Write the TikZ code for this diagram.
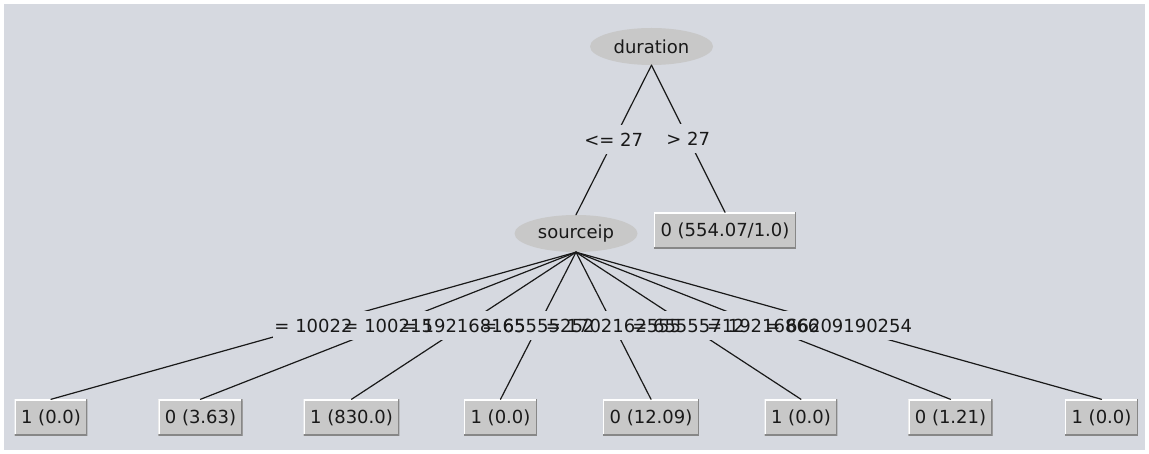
\documentclass[tikz,border=0pt]{standalone}
\usepackage{fontspec}
\setmainfont{DejaVu Sans}
\usetikzlibrary{shapes.geometric}
\definecolor{panelbg}{RGB}{214,217,224}
\definecolor{nodegrey}{RGB}{200,200,200}
\definecolor{rimdark}{RGB}{135,135,135}
\definecolor{inkc}{RGB}{25,25,25}
\begin{document}
\begin{tikzpicture}[x=1pt, y=-1pt, line join=round, line cap=round,
	font=\fontsize{18}{20}\selectfont, text=inkc,
	splitnode/.style={ellipse, fill=nodegrey, minimum width=123pt, minimum height=37pt, inner sep=0pt},
	leafbox/.style={rectangle, fill=nodegrey, minimum height=36pt, inner xsep=6.5pt, inner ysep=0pt,
		path picture={
			\draw[white, line width=2.4pt] (path picture bounding box.south west) |- (path picture bounding box.north east);
			\draw[rimdark, line width=2.4pt] (path picture bounding box.south west) -| (path picture bounding box.north east);}},
	labelbg/.style={rectangle, fill=panelbg, minimum height=29pt, inner xsep=1pt, inner ysep=0pt},
	labeltext/.style={rectangle, inner sep=0pt},
	branch/.style={draw=inkc, line width=1.2pt}]
	% panel
	\useasboundingbox (0,0) rectangle (1149,454);
	\fill[white] (0,0) rectangle (1149,454);
	\fill[panelbg] (4,4) rectangle (1145,450);
	% split nodes and leaves
	\node[splitnode] (duration) at (651.5,46.5) {duration};
	\node[splitnode] (sourceip) at (576,233.5) {sourceip};
	\node[leafbox] (bigleaf) at (725,230.5) {0 (554.07/1.0)};
	\foreach \cx/\txt [count=\i] in {51/1 (0.0), 200.5/0 (3.63), 351.5/1 (830.0), 500.5/1 (0.0),
		651/0 (12.09), 801/1 (0.0), 950.5/0 (1.21), 1101.5/1 (0.0)}
		\node[leafbox] (leaf\i) at (\cx,417.5) {\txt};
	% branches
	\draw[branch] (duration.south) -- (sourceip.north);
	\draw[branch] (duration.south) -- (bigleaf.north);
	\foreach \i in {1,...,8}
		\draw[branch] (sourceip.south) -- (leaf\i.north);
	% branch labels
	\path (duration.south) -- (sourceip.north) node[midway, labelbg] (lowdur) {<= 27};
	\path (duration.south) -- (bigleaf.north) node[midway, labelbg] (highdur) {> 27};
	\foreach \i/\txt in {1/= 10022, 2/= 100215, 3/= 192168165, 4/= 65555252,
		5/= 1702162555, 6/= 65555712, 7/= 19216866, 8/= 66209190254}
		\path (sourceip.south) -- (leaf\i.north) node[midway, labelbg] (cut\i) {\phantom{\txt}};
	\foreach \i/\txt in {1/= 10022, 2/= 100215, 3/= 192168165, 4/= 65555252,
		5/= 1702162555, 6/= 65555712, 7/= 19216866, 8/= 66209190254}
		\node[labeltext] (lbl\i) at (cut\i) {\txt};
\end{tikzpicture}
\end{document}
